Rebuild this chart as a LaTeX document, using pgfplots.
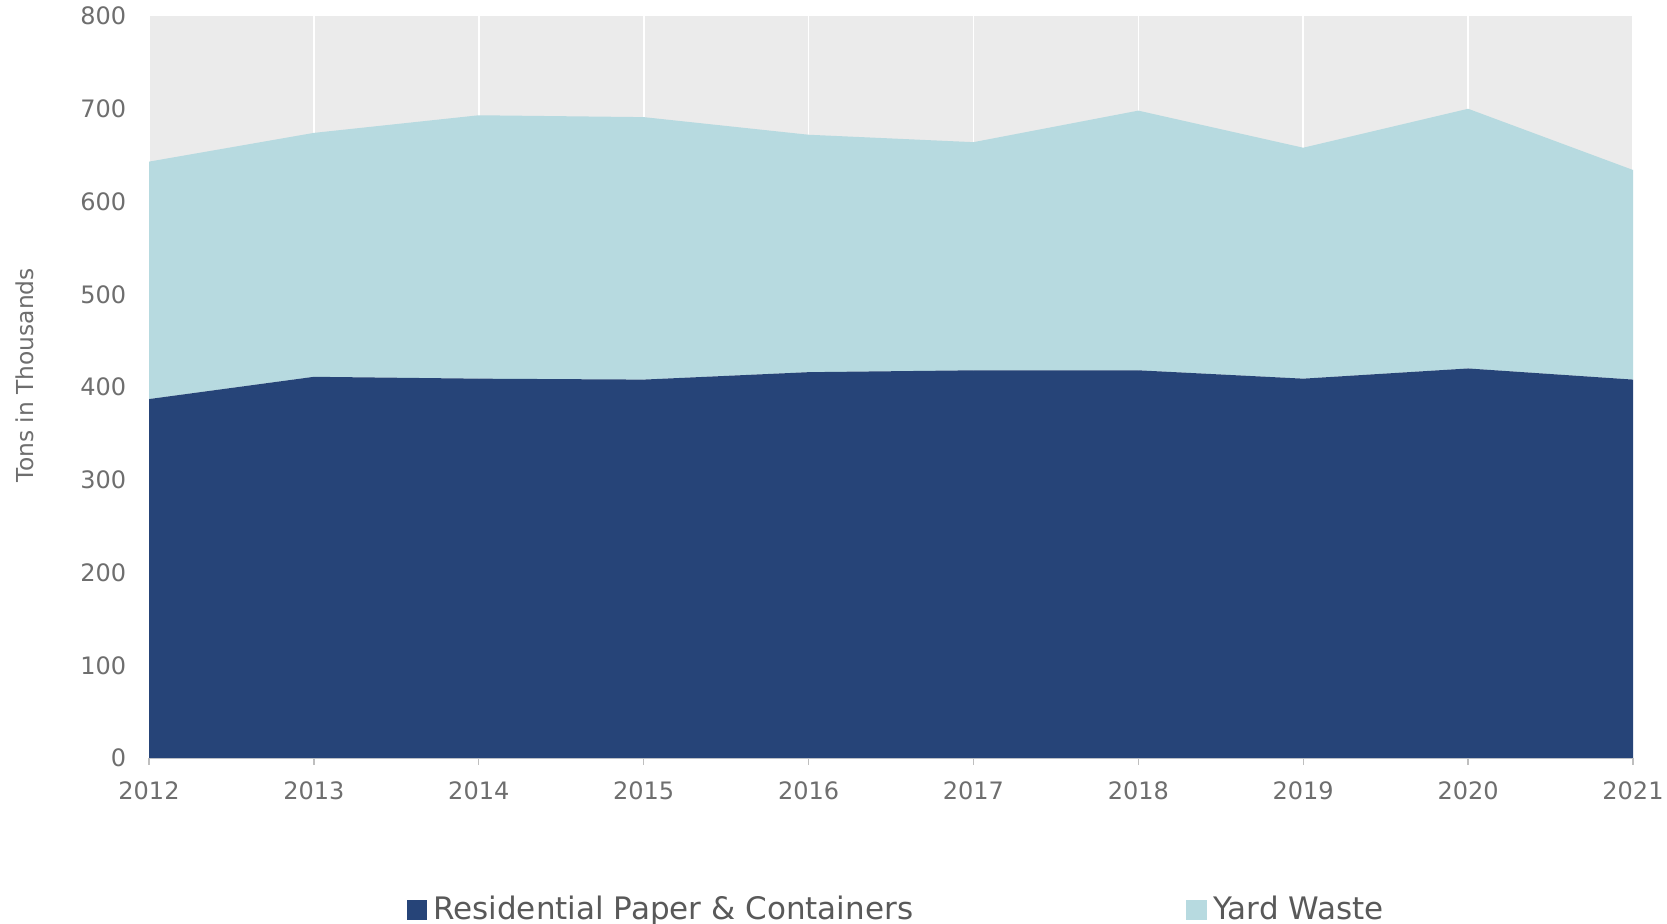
\documentclass[border=0pt]{standalone}
\usepackage{fontspec}
\setmainfont{DejaVu Sans}
\usepackage{pgfplots}
\pgfplotsset{compat=1.18}
\definecolor{navy}{HTML}{264478}
\definecolor{lblue}{HTML}{B7DAE0}
\definecolor{bggray}{HTML}{EBEBEB}
\definecolor{tickgray}{HTML}{6E6E6E}
\definecolor{leggray}{HTML}{595959}
\begin{document}
\begin{tikzpicture}
\useasboundingbox (0,0) rectangle (500.1pt,276.9pt);
\begin{axis}[
  at={(44.7pt,49.5pt)}, anchor=south west,
  width=445.2pt, height=222.6pt, scale only axis,
  xmin=2012, xmax=2021, ymin=0, ymax=800,
  xtick={2012,2013,2014,2015,2016,2017,2018,2019,2020,2021},
  ytick={0,100,200,300,400,500,600,700,800},
  /pgf/number format/assume math mode=true,
  x tick label style={/pgf/number format/1000 sep={}, font=\fontsize{7.2}{8}\selectfont, text=tickgray, yshift=-1.5pt},
  y tick label style={font=\fontsize{7.2}{8}\selectfont, text=tickgray, xshift=-1.3pt},
  axis background/.style={fill=bggray},
  axis x line*=bottom, axis y line*=left,
  x axis line style={draw=lightgray!70},
  y axis line style={draw=none},
  ytick style={draw=none},
  xtick style={draw=lightgray, line width=0.4pt},
  tick align=outside, major tick length=2pt,
  xmajorgrids, major grid style={white, line width=0.5pt},
  stack plots=y,
  ylabel={Tons in Thousands},
  every axis y label/.style={at={(axis description cs:-0.0836,0.516)}, rotate=90, anchor=center, font=\fontsize{7}{8}\selectfont, text=tickgray},
  legend columns=2,
  legend style={at={(axis description cs:0.505,-0.205)}, anchor=center, draw=none, fill=none,
    font=\fontsize{9.3}{11}\selectfont, text=leggray,
    /tikz/every even column/.append style={column sep=80pt},
    /tikz/every odd column/.append style={column sep=0pt}},
  legend image code/.code={\fill[#1] (0pt,-3.1pt) rectangle (6pt,2.9pt);},
]
\addplot[fill=navy, draw=none] coordinates {
  (2012,387) (2013,411) (2014,409) (2015,408) (2016,416)
  (2017,418) (2018,418) (2019,409) (2020,420) (2021,408)
} \closedcycle;
\addlegendentry{Residential Paper \& Containers}
\addplot[fill=lblue, draw=none] coordinates {
  (2012,256) (2013,263) (2014,284) (2015,283) (2016,256)
  (2017,246) (2018,280) (2019,249) (2020,280) (2021,226)
} \closedcycle;
\addlegendentry{Yard Waste}
\end{axis}
\end{tikzpicture}
\end{document}
